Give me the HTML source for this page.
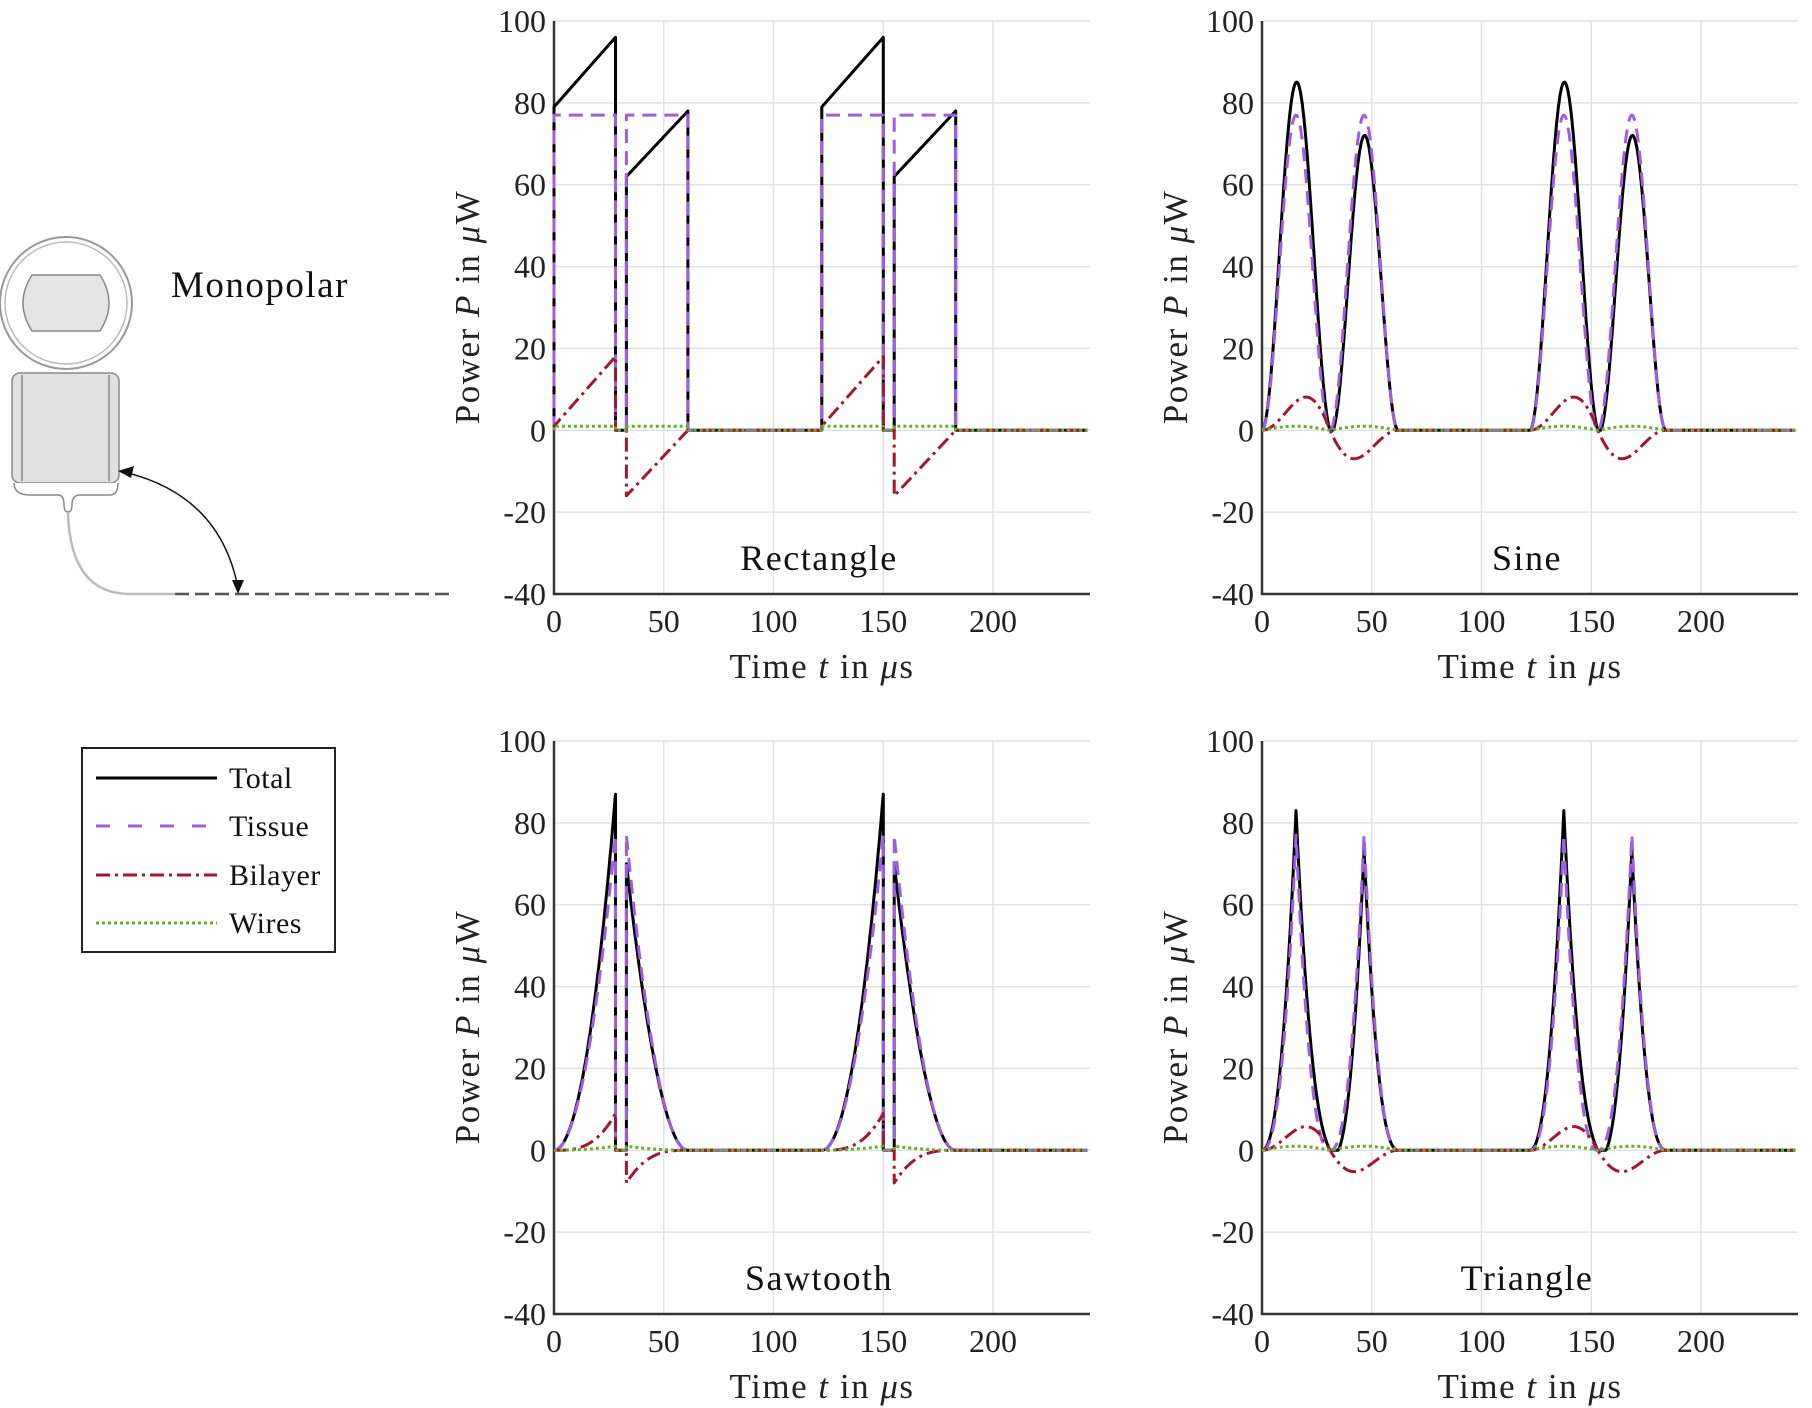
<!DOCTYPE html>
<html><head><meta charset="utf-8"><style>
html,body{margin:0;padding:0;background:#fff;}
svg{display:block;font-family:"Liberation Serif",serif;}
</style></head><body>
<svg id="s" width="1812" height="1408" viewBox="0 0 1812 1408" xmlns="http://www.w3.org/2000/svg">
<g>
<circle cx="66" cy="303" r="66" fill="#fff" stroke="#999" stroke-width="2"/>
<circle cx="66" cy="303" r="61" fill="none" stroke="#bbb" stroke-width="1.5"/>
<path d="M32 275 L100 275 Q118 303 100 331 L32 331 Q14 303 32 275 Z" fill="#e4e4e4" stroke="#888" stroke-width="1.5"/>
<rect x="12" y="373" width="107" height="110" rx="8" fill="#e2e2e2" stroke="#888" stroke-width="1.5"/>
<line x1="22" y1="375" x2="22" y2="481" stroke="#888" stroke-width="1.5"/>
<line x1="109" y1="375" x2="109" y2="481" stroke="#888" stroke-width="1.5"/>
<path d="M14 483 Q14 495 30 495 L58 495 Q64 495 64 505 Q64 512 68 512 Q72 512 72 505 Q72 495 80 495 L110 495 Q118 495 118 483" fill="#fff" stroke="#888" stroke-width="1.5"/>
<path d="M68 512 Q70 594 130 594 L175 594" fill="none" stroke="#bbb" stroke-width="2.5"/>
<line x1="175" y1="594" x2="450" y2="594" stroke="#555" stroke-width="2.5" stroke-dasharray="14,6"/>
<path d="M124 472 Q220 495 238 588" fill="none" stroke="#111" stroke-width="1.5"/>
<path d="M118 471 L134 466 L131 478 Z" fill="#111"/>
<path d="M238 594 L232 580 L244 580 Z" fill="#111"/>
<text x="171" y="297" font-size="37" letter-spacing="1.5" fill="#111">Monopolar</text>
</g>
<g>
<rect x="82" y="748" width="253" height="204" fill="#fff" stroke="#222" stroke-width="2"/>
<line x1="96" y1="778" x2="217" y2="778" stroke="#000" stroke-width="3"/>
<line x1="96" y1="826" x2="217" y2="826" stroke="#9b5fe0" stroke-width="3" stroke-dasharray="14,18"/>
<line x1="96" y1="875" x2="217" y2="875" stroke="#a01830" stroke-width="3" stroke-dasharray="14,5,3,5"/>
<line x1="96" y1="923" x2="217" y2="923" stroke="#6aac2c" stroke-width="3" stroke-dasharray="3,3"/>
<g font-size="30" letter-spacing="0.5" fill="#111">
<text x="229" y="788">Total</text>
<text x="229" y="836">Tissue</text>
<text x="229" y="885">Bilayer</text>
<text x="229" y="933">Wires</text>
</g>
</g>
<g id="plots"></g>
</svg>
<script>
var NS="http://www.w3.org/2000/svg";
var P=document.getElementById("plots");
function el(t,a,txt){var e=document.createElementNS(NS,t);for(var k in a)e.setAttribute(k,a[k]);if(txt!==undefined)e.textContent=txt;P.appendChild(e);return e;}
var XS=2.195, W=536;
function S(x){return Math.sin(Math.PI*x);}
function C(a){a[0]=Math.max(0,a[0]);return a;}
var shapes={
Rectangle:{L:28,G:5,f:function(ph,u){ if(ph==1){var b=1+17*u;return [77+b+1,77,b,1];} else {var b=-16+16*u;return [77+b+1,77,b,1];}}},
Sine:{L:31,G:0,f:function(ph,u){var t=77*S(u)*S(u);var w=1*S(u);if(ph==1){var b=14*u*S(u);return C([t+b+w,t,b,w]);}else{var b=-12*(1-u)*S(u);return C([t+b+w,t,b,w]);}}},
Sawtooth:{L:28,G:5,f:function(ph,u){if(ph==1){var t=77*u*u,b=9*u*u*u,w=u*u;return [t+b+w,t,b,w];}else{var v=1-u;var t=77*v*v,b=-8*v*v*v,w=v*v;return [t+b+w,t,b,w];}}},
Triangle:{L:31,G:0,f:function(ph,u){var tr=1-Math.abs(2*u-1);var t=77*Math.pow(tr,2.4);var w=S(u);if(ph==1){var b=10*u*S(u);return C([t+b+w,t,b,w]);}else{var b=-9*(1-u)*S(u);return C([t+b+w,t,b,w]);}}}
};
function series(sh,idx){
 var pts=[],L=sh.L,G=sh.G;
 [0,122].forEach(function(o){
  pts.push([o,0]);
  for(var i=0;i<=120;i++){var u=i/120;pts.push([o+u*L,sh.f(1,u)[idx]]);}
  pts.push([o+L,0]);pts.push([o+L+G,0]);
  for(var i=0;i<=120;i++){var u=i/120;pts.push([o+L+G+u*L,sh.f(2,u)[idx]]);}
  pts.push([o+2*L+G,0]);
 });
 pts.push([243,0]);
 return pts;
}
function plot(x0,top,name){
 var bot=top+573, ys=(bot-top)/140;
 function X(t){return x0+t*XS;} function Y(v){return top+(100-v)*ys;}
 for(var t=0;t<=200;t+=50) el("line",{x1:X(t),y1:top,x2:X(t),y2:bot,stroke:"#e2e2e2","stroke-width":1.5});
 for(var v=-40;v<=100;v+=20) el("line",{x1:x0,y1:Y(v),x2:x0+W,y2:Y(v),stroke:"#e2e2e2","stroke-width":1.5});
 el("path",{d:"M"+x0+" "+top+" L"+x0+" "+bot+" L"+(x0+W)+" "+bot,fill:"none",stroke:"#333","stroke-width":2.5});
 for(var t=0;t<=200;t+=50) el("text",{x:X(t),y:bot+38,"font-size":32,"text-anchor":"middle",fill:"#222"},""+t);
 for(var v=-40;v<=100;v+=20) el("text",{x:x0-8,y:Y(v)+11,"font-size":32,"text-anchor":"end",fill:"#222"},""+v);
 var tx=el("text",{x:x0+W/2,y:bot+84,"font-size":35,"letter-spacing":"1.5","text-anchor":"middle",fill:"#222"});
 tx.innerHTML='Time <tspan font-style="italic">t</tspan> in <tspan font-style="italic">μ</tspan>s';
 var ty=el("text",{x:0,y:0,"font-size":35,"letter-spacing":"1.5","text-anchor":"middle",fill:"#222",transform:"translate("+(x0-75)+","+(top+286)+") rotate(-90)"});
 ty.innerHTML='Power <tspan font-style="italic">P</tspan> in <tspan font-style="italic">μ</tspan>W';
 el("text",{x:x0+W/2-3,y:bot-24,"font-size":36,"letter-spacing":"1.5","text-anchor":"middle",fill:"#111"},name);
 var sh=shapes[name];
 var styles=[{stroke:"#000","stroke-width":3},{stroke:"#9b5fe0","stroke-width":3,"stroke-dasharray":"14,8"},{stroke:"#a01830","stroke-width":3,"stroke-dasharray":"14,5,3,5"},{stroke:"#6aac2c","stroke-width":3,"stroke-dasharray":"3,3"}];
 [0,1,2,3].forEach(function(k){
  var d=series(sh,k).map(function(p,i){return (i?"L":"M")+X(p[0]).toFixed(1)+" "+Y(p[1]).toFixed(1);}).join(" ");
  var a={d:d,fill:"none","stroke-linejoin":"round"};for(var q in styles[k])a[q]=styles[k][q];
  el("path",a);
 });
}
plot(554,21,"Rectangle");
plot(1262,21,"Sine");
plot(554,741,"Sawtooth");
plot(1262,741,"Triangle");
</script>
</body></html>
